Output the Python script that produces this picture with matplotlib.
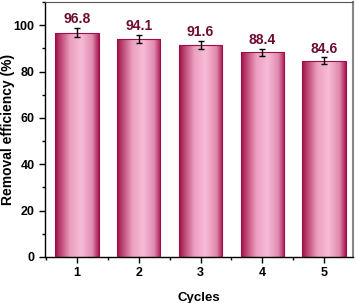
import numpy as np
import matplotlib
matplotlib.use("Agg")
import matplotlib.pyplot as plt
from matplotlib.colors import LinearSegmentedColormap
from matplotlib.ticker import MultipleLocator

cycles = [1, 2, 3, 4, 5]
efficiency = [96.8, 94.1, 91.6, 88.4, 84.6]
errors = [2.0, 1.7, 1.7, 1.5, 1.5]

plt.rcParams['font.family'] = ['Arial', 'Liberation Sans', 'DejaVu Sans']
plt.rcParams['font.weight'] = 'bold'

fig = plt.figure(figsize=(3.57, 3.03), dpi=100)
ax = fig.add_axes([0.126, 0.152, 0.863, 0.841])

# bar shading: dark edges, light pink middle
cmap = LinearSegmentedColormap.from_list(
    "pinkbar", [(0.0, "#9a0f45"), (0.1, "#b83a6a"), (0.35, "#eca0c1"),
                (0.6, "#f7bcd6"), (0.85, "#e08bb0"), (1.0, "#a8174f")])
grad = np.linspace(0, 1, 256).reshape(1, -1)

width = 0.7
bars = ax.bar(cycles, efficiency, width=width, color='none',
              edgecolor='#9a0f45', linewidth=0.8, zorder=3)
for b in bars:
    x0, y0 = b.get_x(), b.get_y()
    im = ax.imshow(grad, cmap=cmap, aspect='auto', zorder=2,
                   extent=[x0, x0 + b.get_width(), y0, y0 + b.get_height()])
    im.set_clip_path(b)

ax.errorbar(cycles, efficiency, yerr=errors, fmt='none', ecolor='black',
            elinewidth=1.0, capsize=2.5, capthick=1.0, zorder=4)

for c, v, e in zip(cycles, efficiency, errors):
    ax.text(c, v + e + 0.8, f"{v}", ha='center', va='bottom', color='#6e0b30',
            fontsize=10, fontweight='bold', zorder=5)

ax.set_xlim(0.48, 5.47)
ax.set_ylim(0, 110)
ax.set_xticks(cycles)
ax.xaxis.set_minor_locator(MultipleLocator(0.5))
ax.yaxis.set_major_locator(MultipleLocator(20))
ax.yaxis.set_minor_locator(MultipleLocator(10))
ax.tick_params(which='both', direction='out', width=1)
ax.tick_params(which='major', length=4, labelsize=9)
ax.tick_params(which='minor', length=2)
ax.set_yticks([0, 20, 40, 60, 80, 100])
for lab in ax.get_xticklabels() + ax.get_yticklabels():
    lab.set_fontweight('bold')

ax.set_xlabel("Cycles", fontsize=9.5, fontweight='bold')
ax.set_ylabel("Removal efficiency (%)", fontsize=10, fontweight='bold')
ax.xaxis.set_label_coords(0.5, -0.137)
ax.yaxis.set_label_coords(-0.097, 0.5)
ax.spines['right'].set_color('#888888')
ax.spines['right'].set_linewidth(1.5)
ax.spines['top'].set_color('#555555')
ax.spines['left'].set_linewidth(1.0)
ax.spines['bottom'].set_linewidth(1.0)

fig.savefig("out.png", dpi=100)
